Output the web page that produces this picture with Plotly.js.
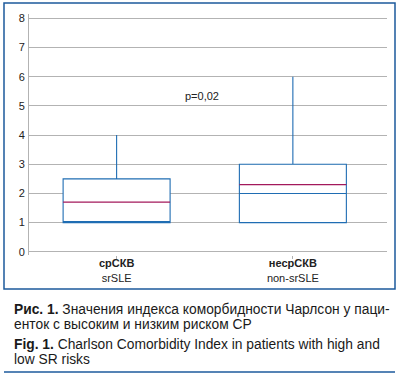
<!DOCTYPE html>
<html><head><meta charset="utf-8">
<script src="https://cdn.plot.ly/plotly-3.0.1.min.js"></script>
<style>html,body{margin:0;padding:0;background:#fff;}#chart{width:401px;height:377px;}</style>
</head><body><div id="chart"></div>
<script>
// Data
const categoriesRu = ['срСКВ', 'несрСКВ'];
const categoriesEn = ['srSLE', 'non-srSLE'];
const q1Values = [1, 1];
const medianValues = [1, 2];
const q3Values = [2.5, 3];
const lowerValues = [1, 1];
const upperValues = [4, 6];
const meanValues = [1.7, 2.3];
const yTicks = [0, 1, 2, 3, 4, 5, 6, 7, 8];
const pLabel = 'p=0,02';

const positions = categoriesRu.map((_, i) => i);
const boxW = 0.607;

const traces = [{
  type: 'box',
  x: positions,
  q1: q1Values, median: medianValues, q3: q3Values,
  lowerfence: lowerValues, upperfence: upperValues,
  width: boxW, whiskerwidth: 0, boxpoints: false,
  fillcolor: '#ffffff',
  line: {color: '#1f6db3', width: 1.1},
  hoverinfo: 'skip', showlegend: false
}];
positions.forEach((p, i) => {
  traces.push({
    type: 'scatter', mode: 'lines',
    x: [p - boxW / 2, p + boxW / 2], y: [meanValues[i], meanValues[i]],
    line: {color: '#a3195b', width: 1.3},
    hoverinfo: 'skip', showlegend: false
  });
});

// pixel -> paper helpers (plot area: x 29..387, y 14..255)
const L = 29, R = 387, T = 14, B = 255;
const px = v => (v - L) / (R - L);
const py = v => (B - v) / (B - T);

const capFont = {family: 'Liberation Sans, Arial, sans-serif', size: 13.8, color: '#1a1a1a'};
const capLines = [
  ['<b>Рис. 1.</b> Значения индекса коморбидности Чарлсон у паци-', 309],
  ['енток с высоким и низким риском СР', 324.5],
  ['<b>Fig. 1.</b> Charlson Comorbidity Index in patients with high and', 344],
  ['low SR risks', 359.5]
];

const layout = {
  width: 401, height: 377,
  margin: {l: L, r: 401 - R, t: T, b: 377 - B},
  paper_bgcolor: '#ffffff', plot_bgcolor: '#ffffff',
  font: {family: 'Liberation Sans, Arial, sans-serif', size: 11, color: '#222'},
  xaxis: {
    range: [-0.497, 1.534], tickvals: positions,
    ticktext: categoriesRu.map((c, i) => '<b>' + c + '</b><br>' + categoriesEn[i]),
    showgrid: false, zeroline: false, showline: false,
    ticks: 'outside', ticklen: 3, tickcolor: '#b0b0b0', ticklabelstandoff: -5,
    tickfont: {size: 11, color: '#222'}, fixedrange: true
  },
  yaxis: {
    range: [-0.11, 8.15], tickvals: yTicks,
    showgrid: true, gridcolor: '#b3b3b3', gridwidth: 1,
    zeroline: false, showline: true, linecolor: '#b3b3b3', linewidth: 1,
    ticks: '', ticklabelstandoff: 1,
    tickfont: {size: 11, color: '#222'}, fixedrange: true
  },
  annotations: [
    {x: 0.485, y: 5.35, xref: 'x', yref: 'y', text: pLabel, showarrow: false,
     font: {size: 11, color: '#222'}}
  ].concat(capLines.map(([t, y]) => ({
    x: px(12), y: py(y), xref: 'paper', yref: 'paper', xanchor: 'left', yanchor: 'middle',
    text: t, showarrow: false, align: 'left', font: capFont
  }))),
  shapes: [
    {type: 'rect', xref: 'paper', yref: 'paper', x0: px(4), x1: px(395), y0: py(289), y1: py(3),
     line: {color: '#1c5a9c', width: 1.5}, layer: 'below'},
    {type: 'line', xref: 'paper', yref: 'paper', x0: px(4), x1: px(395), y0: py(372), y1: py(372),
     line: {color: '#1c5a9c', width: 1.5}}
  ]
};

Plotly.newPlot('chart', traces, layout, {displayModeBar: false, staticPlot: true});
</script></body></html>
